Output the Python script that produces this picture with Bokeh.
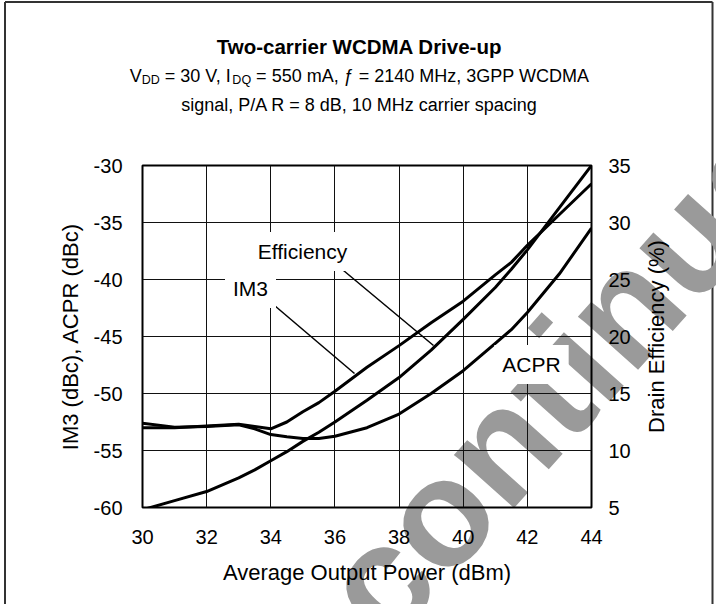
import math
from bokeh.plotting import figure
from bokeh.layouts import column
from bokeh.models import Range1d, LinearAxis, FixedTicker, Label
from bokeh.embed import file_html
from bokeh.resources import INLINE

# ---------------- data ----------------
power_dbm = [30, 31, 32, 33, 33.5, 34, 34.5, 35, 35.5, 36, 37, 38, 39, 40, 41, 41.5, 42, 43, 44]
im3_dbc = [-53.0, -53.0, -52.85, -52.7, -52.9, -53.1, -52.5, -51.6, -50.8, -49.8, -47.7,
           -45.8, -43.8, -41.9, -39.6, -38.5, -37.0, -34.3, -31.6]
acpr_dbc = [-52.6, -52.95, -52.9, -52.75, -53.1, -53.6, -53.8, -53.95, -53.95, -53.75, -53.0,
            -51.8, -50.0, -48.0, -45.6, -44.4, -42.9, -39.5, -35.5]
efficiency_pct = [4.8, 5.6, 6.4, 7.6, 8.3, 9.1, 9.9, 10.8, 11.6, 12.5, 14.4,
                  16.4, 18.8, 21.5, 24.3, 25.9, 27.6, 31.3, 35.0]

x_ticks = [30, 32, 34, 36, 38, 40, 42, 44]
left_ticks = [-60, -55, -50, -45, -40, -35, -30]
right_ticks = [5, 10, 15, 20, 25, 30, 35]

title_text = "Two-carrier WCDMA Drive-up"
subtitle_line1 = [("V", False), ("DD", True), (" = 30 V, I", False), ("DQ", True),
                  (" = 550 mA, ", False), ("\u0192", False), (" = 2140 MHz, 3GPP WCDMA", False)]
subtitle_line2 = "signal, P/A R = 8 dB, 10 MHz carrier spacing"
x_label = "Average Output Power (dBm)"
left_label = "IM3 (dBc), ACPR (dBc)"
right_label = "Drain Efficiency (%)"
watermark_text = "Discontinued"

# ---------------- layout constants (page pixels) ----------------
PAGE_W, PAGE_H = 716, 604
FRAME_L, FRAME_T, FRAME_W, FRAME_H = 142, 165, 449, 342
X0, X1, Y0, Y1 = 30, 44, -60, -30
FONT = "Liberation Sans"


def X(px):
    return X0 + (px - FRAME_L) * (X1 - X0) / FRAME_W


def Y(py):
    return Y0 + (FRAME_T + FRAME_H - py) * (Y1 - Y0) / FRAME_H


def BY(py):  # background canvas: y measured upward
    return PAGE_H - py


# Arial / Liberation Sans advance widths (1/1000 em)
W = {' ': 278, ',': 278, '=': 584, '/': 278, '.': 278, '\u0192': 556,
     'A': 667, 'B': 667, 'C': 722, 'D': 722, 'G': 778, 'H': 722, 'I': 278, 'M': 833,
     'P': 667, 'Q': 778, 'R': 722, 'V': 667, 'W': 944,
     'a': 556, 'c': 500, 'd': 556, 'e': 556, 'g': 556, 'i': 222, 'l': 222, 'm': 833,
     'n': 556, 'p': 556, 'r': 333, 's': 500, 'z': 500, 'f': 278}
for d in "0123456789":
    W[d] = 556


def text_w(s, size):
    return sum(W.get(c, 556) for c in s) * size / 1000.0


# ---------------- background canvas: header, watermark, right title, border ----------------
bg = figure(width=PAGE_W, height=PAGE_H, x_range=Range1d(0, PAGE_W), y_range=Range1d(0, PAGE_H),
            output_backend="svg", toolbar_location=None, title=None, min_border=0,
            x_axis_type=None, y_axis_type=None)
bg.frame_align = False
bg.outline_line_color = None
bg.background_fill_color = "white"
bg.border_fill_color = "white"
bg.grid.visible = False

bg.add_layout(Label(x=512, y=BY(430), text=watermark_text, angle=0.84, text_align="center",
                    text_baseline="middle", text_font=FONT, text_font_style="bold",
                    text_font_size="152px", text_color="#9a9a9a"))

BORDER_X = [4.5, 712]
BORDER_TOP = 1.5
bg.segment(x0=[BORDER_X[0], BORDER_X[1], BORDER_X[0]], y0=[BY(BORDER_TOP), BY(BORDER_TOP), BY(BORDER_TOP)],
           x1=[BORDER_X[0], BORDER_X[1], BORDER_X[1]], y1=[BY(PAGE_H + 5), BY(PAGE_H + 5), BY(BORDER_TOP)],
           line_color="#333", line_width=2)

CX = 359
bg.add_layout(Label(x=CX, y=BY(46), text=title_text, text_align="center",
                    text_baseline="alphabetic", text_font=FONT, text_font_style="bold",
                    text_font_size="20.5px", text_color="black"))

S_MAIN, S_SUB, SUB_DROP = 18, 12.5, 4
total = sum(text_w(s, S_SUB if sub else S_MAIN) for s, sub in subtitle_line1)
cur = CX - total / 2.0
BASE1 = 75
for s, sub in subtitle_line1:
    size = S_SUB if sub else S_MAIN
    lead = len(s) - len(s.lstrip(" "))
    sx = cur + text_w(" " * lead, size)
    bg.add_layout(Label(x=sx, y=BY(BASE1 + (SUB_DROP if sub else 0)), text=s.strip(" "),
                        text_align="left", text_baseline="alphabetic", text_font=FONT,
                        text_font_size=f"{size}px", text_color="black"))
    cur += text_w(s, size)

bg.add_layout(Label(x=CX, y=BY(104), text=subtitle_line2, text_align="center",
                    text_baseline="alphabetic", text_font=FONT,
                    text_font_size=f"{S_MAIN}px", text_color="black"))

bg.add_layout(Label(x=656, y=BY(336), text=right_label, angle=math.pi / 2,
                    text_align="center", text_baseline="middle", text_font=FONT,
                    text_font_size="22px", text_color="black"))

# ---------------- main chart (transparent, laid over the background) ----------------
p = figure(width=PAGE_W, height=PAGE_H, x_range=Range1d(X0, X1), y_range=Range1d(Y0, Y1),
           output_backend="svg", toolbar_location=None, title=None,
           min_border_left=FRAME_L, min_border_top=FRAME_T,
           min_border_right=PAGE_W - FRAME_L - FRAME_W,
           min_border_bottom=PAGE_H - FRAME_T - FRAME_H)
p.frame_align = False
p.margin = (-PAGE_H, 0, 0, 0)
p.background_fill_alpha = 0
p.border_fill_alpha = 0
p.outline_line_color = "black"
p.outline_line_width = 2

p.extra_y_ranges = {"eff": Range1d(5, 35)}
ax_r = LinearAxis(y_range_name="eff")
p.add_layout(ax_r, "right")

p.xaxis.ticker = FixedTicker(ticks=x_ticks)
p.yaxis[0].ticker = FixedTicker(ticks=left_ticks)
ax_r.ticker = FixedTicker(ticks=right_ticks)
p.xaxis.major_label_overrides = {t: str(t) for t in x_ticks}
p.yaxis[0].major_label_overrides = {t: str(t) for t in left_ticks}
ax_r.major_label_overrides = {t: str(t) for t in right_ticks}

for ax in [p.xaxis[0], p.yaxis[0], ax_r]:
    ax.axis_line_color = None
    ax.major_tick_line_color = None
    ax.minor_tick_line_color = None
    ax.major_label_text_font = FONT
    ax.major_label_text_font_size = "20px"
    ax.major_label_text_color = "black"
    ax.axis_label_text_font = FONT
    ax.axis_label_text_font_size = "22px"
    ax.axis_label_text_font_style = "normal"
    ax.axis_label_text_color = "black"

p.xaxis.major_label_standoff = 16
p.xaxis.axis_label = x_label
p.xaxis.axis_label_standoff = 13
p.yaxis[0].major_label_standoff = 14
p.yaxis[0].axis_label = left_label
p.yaxis[0].axis_label_standoff = 8
ax_r.major_label_standoff = 11

p.xgrid.grid_line_color = "#111"
p.ygrid.grid_line_color = "#111"
p.xgrid.grid_line_width = 1
p.ygrid.grid_line_width = 1

# curves
p.line(power_dbm, im3_dbc, line_color="black", line_width=3)
p.line(power_dbm, acpr_dbc, line_color="black", line_width=3)
p.line(power_dbm, efficiency_pct, y_range_name="eff", line_color="black", line_width=3)

# leader lines from callouts to curves
IM3_LEADER = dict(x0=X(274), y0=Y(305), x1=X(354), y1=Y(373))
EFF_LEADER = dict(x0=X(343), y0=Y(270), x1=X(433), y1=Y(345))
for ld in (IM3_LEADER, EFF_LEADER):
    p.segment(x0=[ld["x0"]], y0=[ld["y0"]], x1=[ld["x1"]], y1=[ld["y1"]],
              line_color="black", line_width=1.5)

# callout labels with white background (interrupt grid lines)
for txt, cx, cy in [("Efficiency", 302, 251), ("IM3", 250, 288), ("ACPR", 531, 364)]:
    p.add_layout(Label(x=X(cx), y=Y(cy), text=txt, text_align="center", text_baseline="middle",
                       text_font=FONT, text_font_size="21px", text_color="black",
                       background_fill_color="white", padding=8))

layout = column(bg, p, spacing=0)
open("out.html", "w").write(file_html(layout, INLINE))
